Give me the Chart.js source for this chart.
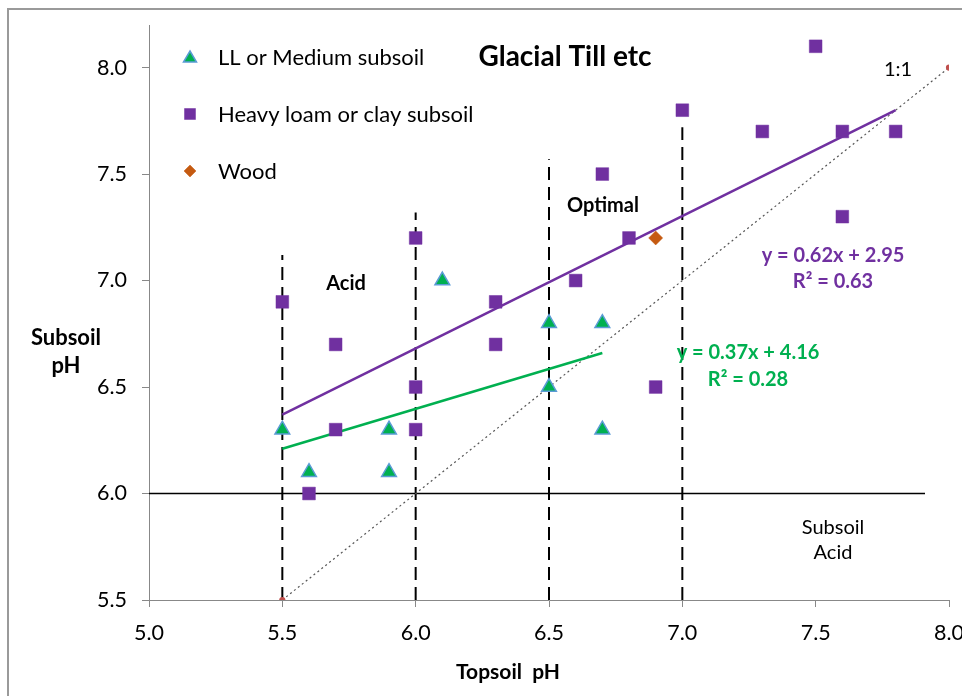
<!DOCTYPE html>
<html>
<head>
<meta charset="utf-8">
<script src="https://cdn.jsdelivr.net/npm/chart.js@4/dist/chart.umd.min.js"></script>
<style>
html,body{margin:0;padding:0;background:#fff;}
#wrap{width:962px;height:696px;position:relative;}
</style>
</head>
<body>
<div id="wrap"><canvas id="c" width="962" height="696"></canvas></div>
<script>
// ---- Data ----
const seriesNames = ["LL or Medium subsoil", "Heavy loam or clay subsoil", "Wood"];
const mediumX = [5.5, 5.6, 5.9, 5.9, 6.1, 6.5, 6.5, 6.7, 6.7];
const mediumY = [6.3, 6.1, 6.3, 6.1, 7.0, 6.8, 6.5, 6.8, 6.3];
const heavyX = [5.5, 5.7, 5.7, 5.6, 6.0, 6.0, 6.0, 6.3, 6.3, 6.6, 6.7, 6.8, 6.9, 7.0, 7.3, 7.5, 7.6, 7.6, 7.8];
const heavyY = [6.9, 6.7, 6.3, 6.0, 7.2, 6.5, 6.3, 6.9, 6.7, 7.0, 7.5, 7.2, 6.5, 7.8, 7.7, 8.1, 7.7, 7.3, 7.7];
const woodX = [6.9];
const woodY = [7.2];
// trend lines (from fitted equations shown on chart)
const heavyTrendX = [5.5, 7.8];
const heavyTrendY = [6.37, 7.80];
const mediumTrendX = [5.5, 6.7];
const mediumTrendY = [6.21, 6.66];
// 1:1 line
const oneToOneX = [5.5, 8.0];
const oneToOneY = [5.5, 8.0];
// threshold lines
const vLinesX = [5.5, 6.0, 6.5, 7.0];
const vLinesTop = [7.12, 7.32, 7.57, 7.72];
const hLineX = [5.0, 7.91];
const hLineY = [6.0, 6.0];
const xTicks = [5.0, 5.5, 6.0, 6.5, 7.0, 7.5, 8.0];
const yTicks = [5.5, 6.0, 6.5, 7.0, 7.5, 8.0];

const PURPLE = '#7030A0', GREEN = '#00B050', BLUE = '#5B9BD5', BROWN = '#C55A11';
const FONT = 'Lato, "Open Sans", sans-serif';

const pts = (xs, ys) => xs.map((x, i) => ({x: x, y: ys[i]}));

const datasets = [];
datasets.push({label: seriesNames[0], data: pts(mediumX, mediumY), pointStyle: 'triangle', pointRadius: 8.5,
  backgroundColor: GREEN, borderColor: BLUE, borderWidth: 1.5, showLine: false, order: 1});
datasets.push({label: seriesNames[1], data: pts(heavyX, heavyY), pointStyle: 'rect', pointRadius: 9,
  backgroundColor: PURPLE, borderColor: PURPLE, borderWidth: 0.5, showLine: false, order: 1});
datasets.push({label: seriesNames[2], data: pts(woodX, woodY), pointStyle: 'rectRot', pointRadius: 7,
  backgroundColor: BROWN, borderColor: BROWN, borderWidth: 0.5, showLine: false, order: 1});
datasets.push({label: 'heavyTrend', data: pts(heavyTrendX, heavyTrendY), showLine: true, pointRadius: 0,
  borderColor: PURPLE, borderWidth: 2.5, order: 2});
datasets.push({label: 'mediumTrend', data: pts(mediumTrendX, mediumTrendY), showLine: true, pointRadius: 0,
  borderColor: GREEN, borderWidth: 2.5, order: 2});
datasets.push({label: 'oneToOne', data: pts(oneToOneX, oneToOneY), showLine: true, pointRadius: 2.5,
  pointBackgroundColor: '#C0504D', pointBorderColor: '#C0504D', borderColor: '#555', borderWidth: 1.2,
  borderDash: [2, 3], order: 3});
vLinesX.forEach((vx, i) => {
  datasets.push({label: 'v' + i, data: [{x: vx, y: 5.5}, {x: vx, y: vLinesTop[i]}], showLine: true, pointRadius: 0,
    borderColor: '#000', borderWidth: 2, borderDash: [13, 7], order: 4});
});
datasets.push({label: 'h6', data: pts(hLineX, hLineY), showLine: true, pointRadius: 0,
  borderColor: '#000', borderWidth: 1.5, order: 4});

const textLabels = [
  {t: 'Glacial Till etc', x: 565, y: 57, font: 'bold 28px ' + FONT, c: '#000'},
  {t: 'Acid', x: 346, y: 284, font: 'bold 20px ' + FONT, c: '#000'},
  {t: 'Optimal', x: 603, y: 206, font: 'bold 20px ' + FONT, c: '#000'},
  {t: '1:1', x: 898, y: 70, font: '20px ' + FONT, c: '#000'},
  {t: 'Subsoil', x: 833, y: 528, font: '20px ' + FONT, c: '#000'},
  {t: 'Acid', x: 833, y: 553, font: '20px ' + FONT, c: '#000'},
  {t: 'y = 0.62x + 2.95', x: 833, y: 256, font: 'bold 20px ' + FONT, c: PURPLE},
  {t: 'R² = 0.63', x: 833, y: 282, font: 'bold 20px ' + FONT, c: PURPLE},
  {t: 'y = 0.37x + 4.16', x: 748, y: 353, font: 'bold 20px ' + FONT, c: GREEN},
  {t: 'R² = 0.28', x: 748, y: 380, font: 'bold 20px ' + FONT, c: GREEN},
  {t: 'Topsoil  pH', x: 508, y: 672, font: 'bold 21px ' + FONT, c: '#000'},
  {t: 'Subsoil', x: 66, y: 338, font: 'bold 22px ' + FONT, c: '#000'},
  {t: 'pH', x: 66, y: 366, font: 'bold 22px ' + FONT, c: '#000'}
];

const framePlugin = {
  id: 'frame',
  beforeDraw(chart) {
    const ctx = chart.ctx;
    ctx.save();
    ctx.fillStyle = '#fff';
    ctx.fillRect(0, 0, chart.width, chart.height);
    ctx.strokeStyle = '#9a9a9a';
    ctx.lineWidth = 2;
    ctx.strokeRect(8, 9, 1200, 1200);
    ctx.restore();
  },
  afterDraw(chart) {
    const ctx = chart.ctx;
    ctx.save();
    ctx.textAlign = 'center';
    ctx.textBaseline = 'middle';
    textLabels.forEach(l => { ctx.font = l.font; ctx.fillStyle = l.c; ctx.fillText(l.t, l.x, l.y); });
    // legend
    const legY = [57, 114, 171];
    ctx.font = '22px ' + FONT;
    ctx.textAlign = 'left';
    ctx.fillStyle = '#000';
    for (let i = 0; i < 3; i++) {
      const ds = chart.data.datasets[i];
      ctx.fillStyle = ds.backgroundColor;
      ctx.strokeStyle = ds.borderColor;
      ctx.lineWidth = ds.borderWidth;
      const cx = 190, cy = legY[i];
      ctx.beginPath();
      if (ds.pointStyle === 'triangle') {
        ctx.moveTo(cx, cy - 6); ctx.lineTo(cx + 6.5, cy + 5); ctx.lineTo(cx - 6.5, cy + 5); ctx.closePath();
      } else if (ds.pointStyle === 'rect') {
        ctx.rect(cx - 5.5, cy - 5.5, 11, 11);
      } else {
        ctx.moveTo(cx, cy - 6); ctx.lineTo(cx + 6, cy); ctx.lineTo(cx, cy + 6); ctx.lineTo(cx - 6, cy); ctx.closePath();
      }
      ctx.fill(); ctx.stroke();
      ctx.fillStyle = '#000';
      ctx.fillText(ds.label, 218, cy + 1);
    }
    ctx.restore();
  }
};

new Chart(document.getElementById('c'), {
  type: 'scatter',
  data: {datasets: datasets},
  options: {
    responsive: false,
    animation: false,
    layout: {padding: {left: 0, right: 13, top: 25, bottom: 0}},
    plugins: {legend: {display: false}, tooltip: {enabled: false}},
    scales: {
      x: {
        type: 'linear', min: 5.0, max: 8.0,
        afterFit(s) { s.height = 96; s.paddingLeft = 0; s.paddingRight = 0; },
        afterBuildTicks(s) { s.ticks = xTicks.map(v => ({value: v})); },
        ticks: {callback: v => v.toFixed(1), font: {size: 21.5, family: FONT}, color: '#000', padding: 13, maxRotation: 0, autoSkip: false},
        grid: {display: true, drawOnChartArea: false, drawTicks: true, tickLength: 7, color: '#888'},
        border: {color: '#888', width: 1}
      },
      y: {
        type: 'linear', min: 5.5, max: 8.2,
        afterFit(s) { s.width = 149; s.paddingTop = 0; s.paddingBottom = 0; },
        afterBuildTicks(s) { s.ticks = yTicks.map(v => ({value: v})); },
        ticks: {callback: v => v.toFixed(1), font: {size: 21.5, family: FONT}, color: '#000', padding: 15, autoSkip: false},
        grid: {display: true, drawOnChartArea: false, drawTicks: true, tickLength: 7, color: '#888'},
        border: {color: '#888', width: 1}
      }
    }
  },
  plugins: [framePlugin]
});
</script>
</body>
</html>
